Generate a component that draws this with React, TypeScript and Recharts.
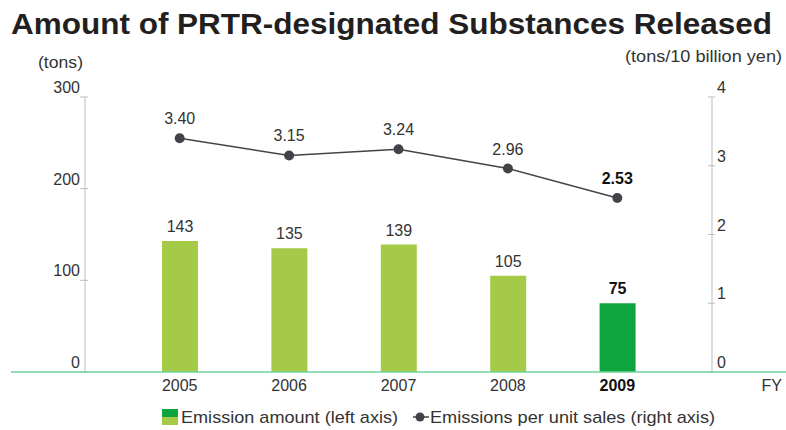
import React from 'react';
import { ComposedChart, Bar, Line, XAxis, YAxis, Cell, LabelList } from 'recharts';

const years = ['2005', '2006', '2007', '2008', '2009'];
const emissionAmount = [143, 135, 139, 105, 75];
const emissionsPerSales = [3.4, 3.15, 3.24, 2.96, 2.53];
const leftTicks = [0, 100, 200, 300];
const rightTicks = [0, 1, 2, 3, 4];
const barColors = ['#a5ca47', '#a5ca47', '#a5ca47', '#a5ca47', '#0ea53f'];

const data = years.map((y, i) => ({ year: y, amount: emissionAmount[i], perSales: emissionsPerSales[i] }));

const FONT = '"Liberation Sans", Arial, Helvetica, sans-serif';
const TXT = '#333';
const AXIS = '#bdbdbd';

const LeftTick = (props: any) => {
  const { x, y, payload } = props;
  return (
    <g>
      <line x1={x - 5} x2={x + 3} y1={y} y2={y} stroke={AXIS} />
      <text x={x - 5} y={y - 4} textAnchor="end" fontSize={16} fontFamily={FONT} fill={TXT}>{payload.value}</text>
    </g>
  );
};

const RightTick = (props: any) => {
  const { x, y, payload } = props;
  return (
    <g>
      <line x1={x - 4} x2={x + 3} y1={y} y2={y} stroke={AXIS} />
      <text x={x + 5} y={y - 4} textAnchor="start" fontSize={16} fontFamily={FONT} fill={TXT}>{payload.value}</text>
    </g>
  );
};

const XTick = (props: any) => {
  const { x, y, payload, index } = props;
  const last = index === years.length - 1;
  return (
    <text x={x} y={y + 19} textAnchor="middle" fontSize={16} fontFamily={FONT} fill={last ? '#111' : TXT} fontWeight={last ? 'bold' : 'normal'}>
      {payload.value}
    </text>
  );
};

const makeLabel = (offset: number, fmt: (v: number) => string) => (props: any) => {
  const { x, y, width, value, index } = props;
  const last = index === years.length - 1;
  const cx = width !== undefined ? x + width / 2 : x;
  return (
    <text x={cx} y={y - offset} textAnchor="middle" fontSize={16} fontFamily={FONT} fill={last ? '#111' : TXT} fontWeight={last ? 'bold' : 'normal'}>
      {fmt(value)}
    </text>
  );
};

const BarLabel = makeLabel(9, (v) => String(v));
const LineLabel = makeLabel(14, (v) => v.toFixed(2));

export default function App() {
  return (
    <div style={{ position: 'absolute', left: 0, top: 0, width: 786, height: 430, background: '#fff', fontFamily: FONT }}>
      <ComposedChart
        width={786}
        height={430}
        data={data}
        margin={{ top: 97, right: 14, bottom: 28, left: 25 }}
      >
        <XAxis
          dataKey="year"
          height={30}
          axisLine={false}
          tickLine={false}
          tickSize={0}
          tickMargin={0}
          padding={{ left: 40, right: 40 }}
          tick={<XTick />}
          interval={0}
        />
        <YAxis
          yAxisId="left"
          orientation="left"
          width={60}
          domain={[0, 300]}
          ticks={leftTicks}
          axisLine={{ stroke: AXIS }}
          tickLine={false}
          tickSize={0}
          tickMargin={0}
          tick={<LeftTick />}
        />
        <YAxis
          yAxisId="right"
          orientation="right"
          width={60}
          domain={[0, 4]}
          ticks={rightTicks}
          axisLine={{ stroke: AXIS }}
          tickLine={false}
          tickSize={0}
          tickMargin={0}
          tick={<RightTick />}
        />
        <Bar yAxisId="left" dataKey="amount" barSize={36} isAnimationActive={false}>
          {data.map((d, i) => (
            <Cell key={d.year} fill={barColors[i]} />
          ))}
          <LabelList dataKey="amount" content={<BarLabel />} />
        </Bar>
        <Line
          yAxisId="right"
          dataKey="perSales"
          stroke="#444"
          strokeWidth={1.5}
          dot={{ r: 5, fill: '#404448', stroke: 'none' }}
          isAnimationActive={false}
        >
          <LabelList dataKey="perSales" content={<LineLabel />} />
        </Line>
      </ComposedChart>
      <svg width={786} height={430} style={{ position: 'absolute', left: 0, top: 0, pointerEvents: 'none' }}>
        <text x={11} y={34} fontSize={30} fontWeight="bold" fontFamily={FONT} fill="#231f20" textLength={761} lengthAdjust="spacingAndGlyphs">
          Amount of PRTR-designated Substances Released
        </text>
        <text x={38} y={68} fontSize={16} fontFamily={FONT} fill={TXT} textLength={45} lengthAdjust="spacingAndGlyphs">(tons)</text>
        <text x={625} y={62} fontSize={16} fontFamily={FONT} fill={TXT} textLength={157} lengthAdjust="spacingAndGlyphs">(tons/10 billion yen)</text>
        <line x1={11} x2={786} y1={372} y2={372} stroke="#6fd49a" strokeWidth={1.5} />
        <text x={782} y={391} textAnchor="end" fontSize={16} fontFamily={FONT} fill={TXT}>FY</text>
        <rect x={162} y={409} width={16} height={8} fill="#0ea53f" />
        <rect x={162} y={417} width={16} height={8} fill="#a5ca47" />
        <text x={181} y={423} fontSize={17} fontFamily={FONT} fill={TXT} textLength={217} lengthAdjust="spacingAndGlyphs">Emission amount (left axis)</text>
        <line x1={413} x2={429} y1={417} y2={417} stroke="#444" strokeWidth={1.5} />
        <circle cx={420} cy={417} r={4.5} fill="#404448" />
        <text x={430} y={423} fontSize={17} fontFamily={FONT} fill={TXT} textLength={285} lengthAdjust="spacingAndGlyphs">Emissions per unit sales (right axis)</text>
      </svg>
    </div>
  );
}
